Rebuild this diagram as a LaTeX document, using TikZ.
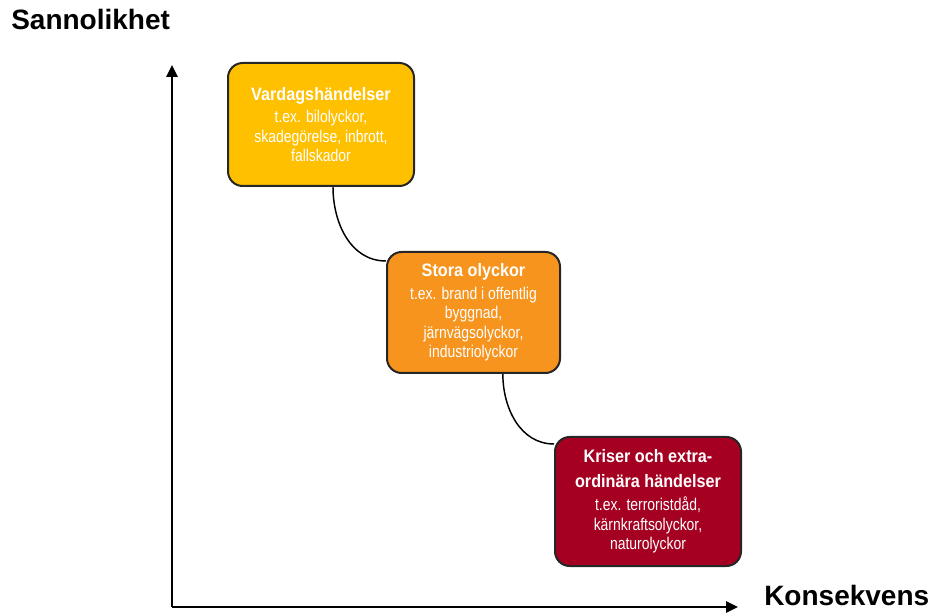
\documentclass[tikz,border=0pt]{standalone}
\usepackage{fontspec}
\setmainfont{Liberation Sans}
\newfontfamily\narrowfont[FakeStretch=0.82]{Liberation Sans}
\newfontfamily\headfont[FakeStretch=0.9]{Liberation Sans}
\usepackage{tikz}
\usetikzlibrary{arrows.meta}

\definecolor{vardag}{RGB}{255,192,0}
\definecolor{stor}{RGB}{247,148,30}
\definecolor{kris}{RGB}{165,0,33}

\newcommand{\boxhead}[1]{{\headfont\bfseries\fontsize{13.5}{15}\selectfont #1}}

\tikzset{
	riskbox/.style={draw=black!85,line width=1.5pt,rounded corners=11pt,
		text=white,align=center,inner sep=0pt,
		font=\narrowfont\fontsize{12.75}{14.6}\selectfont},
	axislabel/.style={font=\bfseries\fontsize{21}{24}\selectfont,inner sep=0pt}
}

\begin{document}
\begin{tikzpicture}[x=0.75pt,y=0.75pt]
	\useasboundingbox (0,0) rectangle (932,-616);
	\node[axislabel,anchor=base west] (ylab) at (11,-30) {Sannolikhet};
	\node[axislabel,anchor=base west] (xlab) at (764,-605) {Konsekvens};
	%
	\coordinate (O) at (172,-607);
	\coordinate (Y) at (172,-65);
	\coordinate (X) at (738,-607);
	\draw[line width=1.5pt,-{Triangle[length=9pt,width=8.5pt]}] (O) -- (Y);
	\draw[line width=1.5pt,-{Triangle[length=9pt,width=8.5pt]}] (O) -- (X);
	%
	\node[riskbox,fill=vardag,minimum width=139.5pt,minimum height=92.25pt]
		(v) at (321,-124.5)
		{\boxhead{Vardagshändelser}\\[2pt]t.ex. bilolyckor,\\skadegörelse, inbrott,\\fallskador};
	\node[riskbox,fill=stor,minimum width=129.75pt,minimum height=90.75pt]
		(s) at (473.5,-312.5)
		{\boxhead{Stora olyckor}\\[2pt]t.ex. brand i offentlig\\byggnad,\\järnvägsolyckor,\\industriolyckor};
	\node[riskbox,fill=kris,minimum width=139.5pt,minimum height=96.75pt]
		(k) at (648,-501.5)
		{\boxhead{Kriser och extra-}\\[4pt]\boxhead{ordinära händelser}\\[2.5pt]t.ex. terroristdåd,\\kärnkraftsolyckor,\\naturolyckor};
	%
	\draw[line width=1.1pt] ([xshift=9pt]v.south) to[out=-90,in=180] ([yshift=-7.5pt]s.north west);
	\draw[line width=1.1pt] ([xshift=22pt]s.south) to[out=-90,in=180] ([yshift=-6pt]k.north west);
\end{tikzpicture}
\end{document}
